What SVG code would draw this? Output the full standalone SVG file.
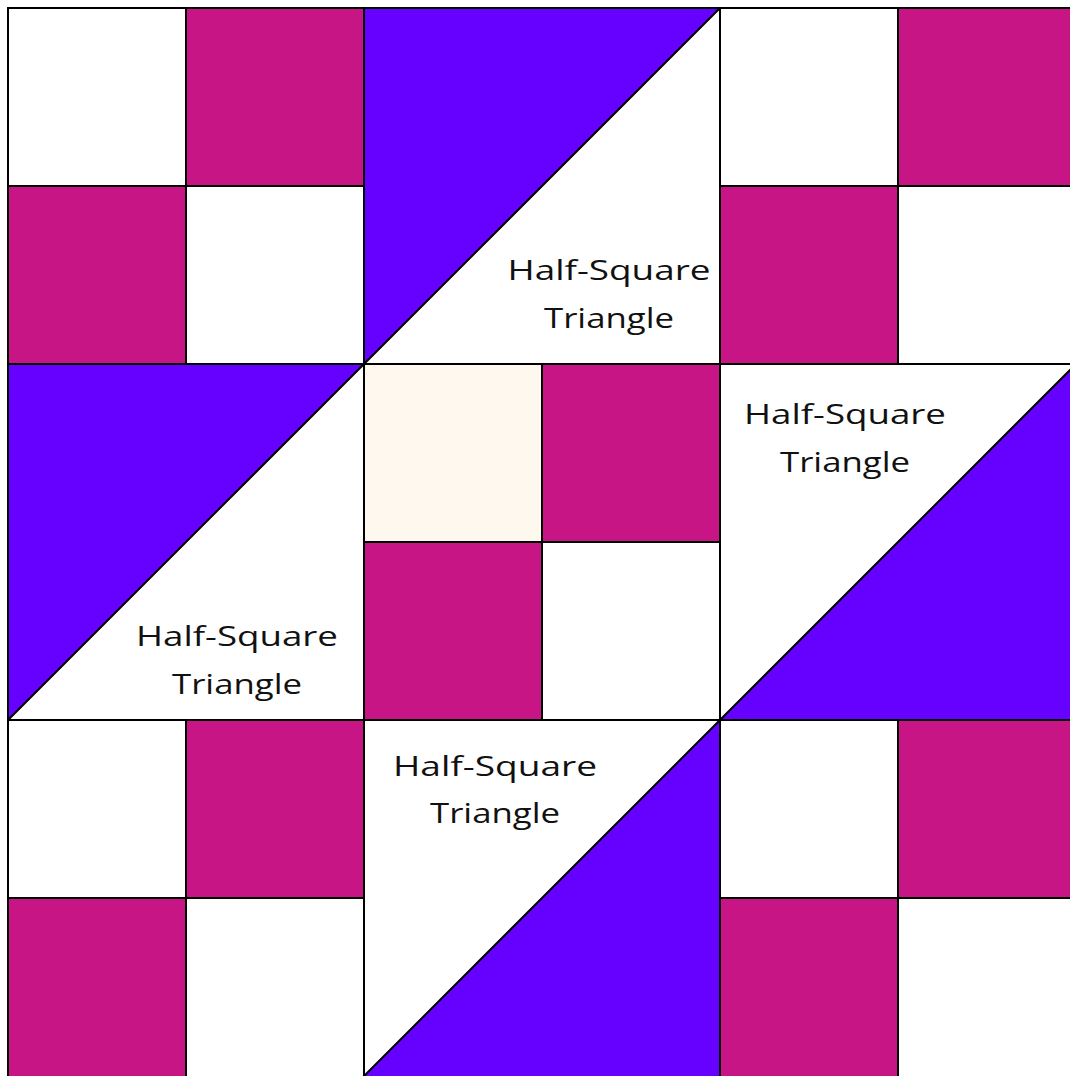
<svg xmlns="http://www.w3.org/2000/svg" width="1070" height="1076" viewBox="0 0 1070 1076">
<style>
.w{fill:#ffffff;stroke:#000;stroke-width:2}
.m{fill:#C71585;stroke:#000;stroke-width:2}
.c{fill:#FEF8EE;stroke:#000;stroke-width:2}
.p{fill:#6600FF;stroke:#000;stroke-width:2;stroke-linejoin:round}
.t{font-family:"Open Sans","DejaVu Sans",sans-serif;font-size:27px;font-weight:500;fill:#111;text-anchor:middle}
</style>
<rect x="0" y="0" width="1070" height="1076" fill="#ffffff"/>
<g id="block-top-left">
<rect class="w" x="8" y="8" width="178" height="178"/>
<rect class="m" x="186" y="8" width="178" height="178"/>
<rect class="m" x="8" y="186" width="178" height="178"/>
<rect class="w" x="186" y="186" width="178" height="178"/>
</g>
<g id="block-top-right">
<rect class="w" x="720" y="8" width="178" height="178"/>
<rect class="m" x="898" y="8" width="178" height="178"/>
<rect class="m" x="720" y="186" width="178" height="178"/>
<rect class="w" x="898" y="186" width="178" height="178"/>
</g>
<g id="block-center">
<rect class="c" x="364" y="364" width="178" height="178"/>
<rect class="m" x="542" y="364" width="178" height="178"/>
<rect class="m" x="364" y="542" width="178" height="178"/>
<rect class="w" x="542" y="542" width="178" height="178"/>
</g>
<g id="block-bottom-left">
<rect class="w" x="8" y="720" width="178" height="178"/>
<rect class="m" x="186" y="720" width="178" height="178"/>
<rect class="m" x="8" y="898" width="178" height="182"/>
<rect class="w" x="186" y="898" width="178" height="182"/>
</g>
<g id="block-bottom-right">
<rect class="w" x="720" y="720" width="178" height="178"/>
<rect class="m" x="898" y="720" width="178" height="178"/>
<rect class="m" x="720" y="898" width="178" height="182"/>
<rect class="w" x="898" y="898" width="178" height="182"/>
</g>
<g id="hst-top">
<rect class="w" x="364" y="8" width="356" height="356"/>
<polygon class="p" points="364,8 720,8 364,364"/>
<text class="t" x="609" y="280" textLength="203" lengthAdjust="spacingAndGlyphs">Half-Square</text>
<text class="t" x="609" y="328" textLength="130" lengthAdjust="spacingAndGlyphs">Triangle</text>
</g>
<g id="hst-left">
<rect class="w" x="8" y="364" width="356" height="356"/>
<polygon class="p" points="8,364 364,364 8,720"/>
<text class="t" x="237" y="646" textLength="202" lengthAdjust="spacingAndGlyphs">Half-Square</text>
<text class="t" x="237" y="694" textLength="130" lengthAdjust="spacingAndGlyphs">Triangle</text>
</g>
<g id="hst-right">
<rect class="w" x="720" y="364" width="356" height="356"/>
<polygon class="p" points="1076,364 1076,720 720,720 896,544 898,542"/>
<text class="t" x="845" y="424" textLength="202" lengthAdjust="spacingAndGlyphs">Half-Square</text>
<text class="t" x="845" y="472" textLength="130" lengthAdjust="spacingAndGlyphs">Triangle</text>
</g>
<g id="hst-bottom">
<rect class="w" x="364" y="720" width="356" height="360"/>
<polygon class="p" points="720,720 720,1080 360,1080 541,899 543,897"/>
<text class="t" x="495" y="776" textLength="204" lengthAdjust="spacingAndGlyphs">Half-Square</text>
<text class="t" x="495" y="823" textLength="130" lengthAdjust="spacingAndGlyphs">Triangle</text>
</g>
<g id="connectors"></g>
</svg>
